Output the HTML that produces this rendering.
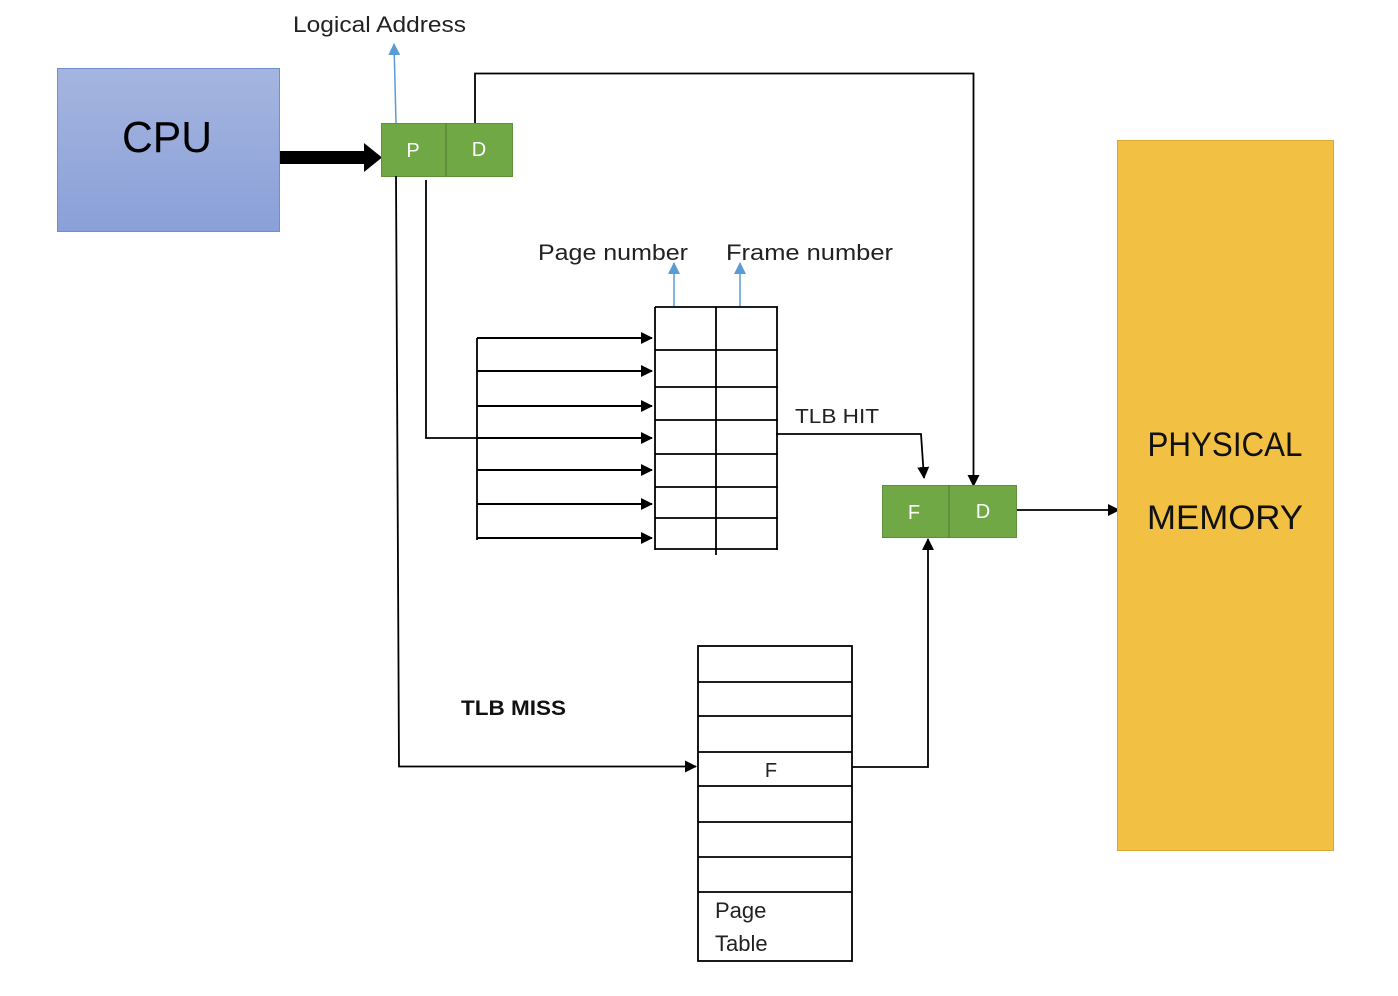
<!DOCTYPE html>
<html><head><meta charset="utf-8"><style>html,body{margin:0;padding:0;background:#fff}svg{display:block}</style></head>
<body>
<svg width="1398" height="996" viewBox="0 0 1398 996" xmlns="http://www.w3.org/2000/svg" font-family="'Liberation Sans', sans-serif">
<defs>
<linearGradient id="cg" x1="0" y1="0" x2="0" y2="1"><stop offset="0" stop-color="#a5b5e0"/><stop offset="1" stop-color="#8aa0d8"/></linearGradient>
<marker id="a" markerWidth="12" markerHeight="12" refX="11" refY="6" orient="auto" markerUnits="userSpaceOnUse"><path d="M0,0 L12,6 L0,12 z" fill="#000"/></marker>
<marker id="b" markerWidth="12" markerHeight="14" refX="11" refY="6" orient="auto" markerUnits="userSpaceOnUse"><path d="M0,0 L12,6 L0,12 z" fill="#5b9bd5"/></marker>
</defs>
<!-- CPU -->
<rect x="57.5" y="68.5" width="222" height="163" fill="url(#cg)" stroke="#6f8fc8"/>
<text x="167" y="152" font-size="44" text-anchor="middle" textLength="90" lengthAdjust="spacingAndGlyphs">CPU</text>
<!-- thick arrow -->
<rect x="280" y="151" width="88" height="13" fill="#000"/>
<path d="M364,143 L382,157.5 L364,172 z" fill="#000"/>
<!-- PD -->
<rect x="381.5" y="123.5" width="131" height="53" fill="#70a845" stroke="#5e8f3a"/>
<line x1="446" y1="123" x2="446" y2="176" stroke="#4f7a30"/>
<text x="413" y="157" font-size="20" fill="#fff" text-anchor="middle">P</text>
<text x="479" y="156" font-size="20" fill="#fff" text-anchor="middle">D</text>
<!-- Logical address -->
<line x1="396" y1="123" x2="394" y2="44" stroke="#5b9bd5" stroke-width="1.5" marker-end="url(#b)"/>
<text x="293" y="32" font-size="22" fill="#222" textLength="173" lengthAdjust="spacingAndGlyphs">Logical Address</text>
<!-- D line -->
<polyline points="475,123 475,73.5 973.5,73.5 973.5,486" fill="none" stroke="#000" stroke-width="1.8" marker-end="url(#a)"/>
<!-- P lines -->
<polyline points="396,176 399,766.5 696,766.5" fill="none" stroke="#000" stroke-width="1.8" marker-end="url(#a)"/>
<polyline points="426,180 426,438 477,438" fill="none" stroke="#000" stroke-width="1.8"/>
<line x1="477" y1="338" x2="477" y2="540" stroke="#000" stroke-width="1.8"/>
<g stroke="#000" stroke-width="2" marker-end="url(#a)">
<line x1="477" y1="338" x2="652" y2="338"/><line x1="477" y1="371" x2="652" y2="371"/>
<line x1="477" y1="406" x2="652" y2="406"/><line x1="477" y1="438" x2="652" y2="438"/>
<line x1="477" y1="470" x2="652" y2="470"/><line x1="477" y1="504" x2="652" y2="504"/>
<line x1="477" y1="538" x2="652" y2="538"/>
</g>
<!-- TLB -->
<g stroke="#000" stroke-width="1.8" fill="none">
<line x1="655" y1="307" x2="655" y2="550"/><line x1="777" y1="307" x2="777" y2="550"/>
<line x1="716" y1="307" x2="716" y2="555"/>
<line x1="655" y1="307" x2="778" y2="307"/><line x1="655" y1="350" x2="778" y2="350"/>
<line x1="655" y1="387" x2="778" y2="387"/><line x1="655" y1="420" x2="778" y2="420"/>
<line x1="655" y1="454" x2="778" y2="454"/><line x1="655" y1="487" x2="778" y2="487"/>
<line x1="655" y1="518" x2="778" y2="518"/><line x1="655" y1="549" x2="778" y2="549"/>
</g>
<line x1="674" y1="306" x2="674" y2="263" stroke="#5b9bd5" stroke-width="1.5" marker-end="url(#b)"/>
<line x1="740" y1="306" x2="740" y2="263" stroke="#5b9bd5" stroke-width="1.5" marker-end="url(#b)"/>
<text x="538" y="260" font-size="22" fill="#222" textLength="150" lengthAdjust="spacingAndGlyphs">Page number</text>
<text x="726" y="260" font-size="22" fill="#222" textLength="167" lengthAdjust="spacingAndGlyphs">Frame number</text>
<text x="795" y="423" font-size="20" fill="#222" textLength="84" lengthAdjust="spacingAndGlyphs">TLB HIT</text>
<polyline points="776,434 921,434 924,478" fill="none" stroke="#000" stroke-width="1.8" marker-end="url(#a)"/>
<!-- FD -->
<rect x="882.5" y="485.5" width="134" height="52" fill="#70a845" stroke="#5e8f3a"/>
<line x1="949" y1="485" x2="949" y2="538" stroke="#4f7a30"/>
<text x="914" y="519" font-size="20" fill="#fff" text-anchor="middle">F</text>
<text x="983" y="518" font-size="20" fill="#fff" text-anchor="middle">D</text>
<line x1="1017" y1="510" x2="1119" y2="510" stroke="#000" stroke-width="1.8" marker-end="url(#a)"/>
<!-- Physical memory -->
<rect x="1117.5" y="140.5" width="216" height="710" fill="#f2c042" stroke="#d8a832"/>
<text x="1225" y="456" font-size="34" fill="#111" text-anchor="middle" textLength="155" lengthAdjust="spacingAndGlyphs">PHYSICAL</text>
<text x="1225" y="529" font-size="34" fill="#111" text-anchor="middle" textLength="156" lengthAdjust="spacingAndGlyphs">MEMORY</text>
<!-- Page table -->
<g stroke="#000" stroke-width="1.8" fill="none">
<rect x="698" y="646" width="154" height="315"/>
<line x1="698" y1="682" x2="852" y2="682"/><line x1="698" y1="716" x2="852" y2="716"/>
<line x1="698" y1="752" x2="852" y2="752"/><line x1="698" y1="786" x2="852" y2="786"/>
<line x1="698" y1="822" x2="852" y2="822"/><line x1="698" y1="857" x2="852" y2="857"/>
<line x1="698" y1="892" x2="852" y2="892"/>
</g>
<text x="771" y="777" font-size="20" fill="#222" text-anchor="middle">F</text>
<text x="715" y="918" font-size="22" fill="#222">Page</text>
<text x="715" y="951" font-size="22" fill="#222">Table</text>
<polyline points="852,767 928,767 928,539" fill="none" stroke="#000" stroke-width="1.8" marker-end="url(#a)"/>
<text x="461" y="715" font-size="21" font-weight="bold" fill="#111" textLength="105" lengthAdjust="spacingAndGlyphs">TLB MISS</text>
</svg>
</body></html>
